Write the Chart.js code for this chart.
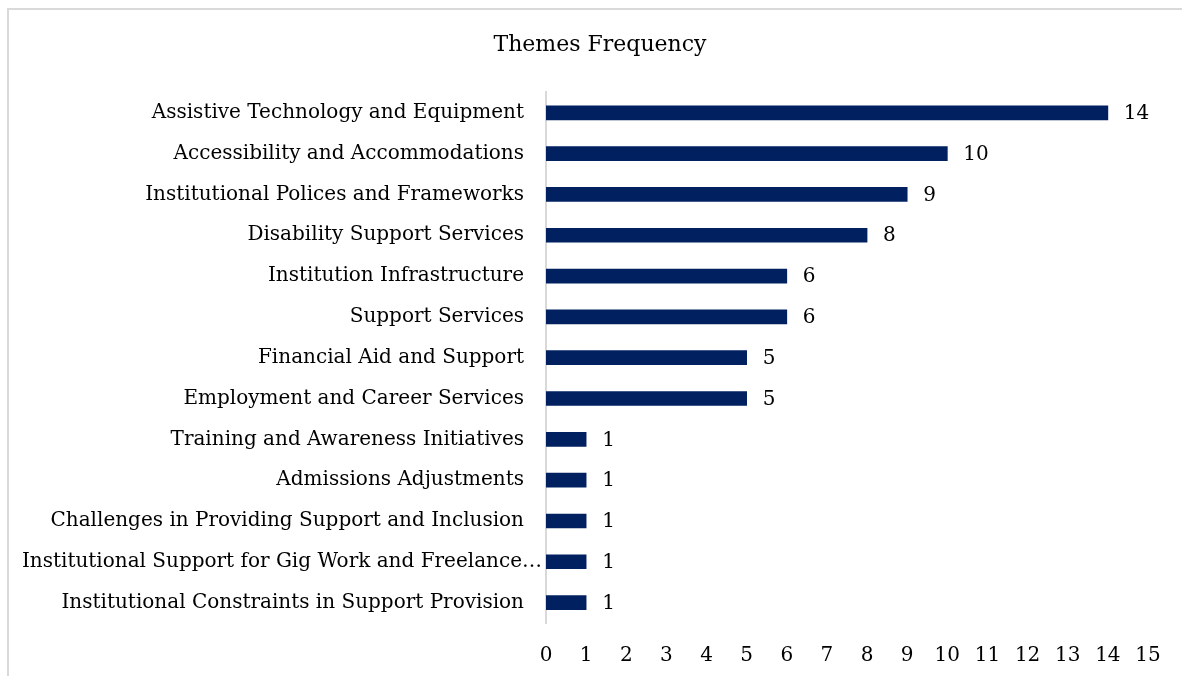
<!DOCTYPE html>
<html>
<head>
<meta charset="utf-8">
<script src="https://cdn.jsdelivr.net/npm/chart.js@4.4.0/dist/chart.umd.min.js"></script>
<style>
  html, body { margin: 0; padding: 0; background: #ffffff; }
  #wrap { position: relative; width: 1182px; height: 676px; overflow: hidden; }
  #frame { position: absolute; left: 7px; top: 8px; right: -10px; bottom: -10px;
           border-top: 2px solid #d9d9d9; border-left: 2px solid #d9d9d9; }
  canvas { position: absolute; left: 0; top: 0; }
</style>
</head>
<body>
<div id="wrap">
  <div id="frame"></div>
  <canvas id="chart" width="1182" height="676"></canvas>
</div>
<script>
// Themes and how often each one came up
const themes = [
  "Assistive Technology and Equipment",
  "Accessibility and Accommodations",
  "Institutional Polices and Frameworks",
  "Disability Support Services",
  "Institution Infrastructure",
  "Support Services",
  "Financial Aid and Support",
  "Employment and Career Services",
  "Training and Awareness Initiatives",
  "Admissions Adjustments",
  "Challenges in Providing Support and Inclusion",
  "Institutional Support for Gig Work and Freelance…",
  "Institutional Constraints in Support Provision"
];
const frequency = [14, 10, 9, 8, 6, 6, 5, 5, 1, 1, 1, 1, 1];
const xTicks = [0, 1, 2, 3, 4, 5, 6, 7, 8, 9, 10, 11, 12, 13, 14, 15];

const FONT = "'DejaVu Serif', serif";
const TEXT = "#000000";
const BAR = "#002060";

// Writes each bar's value just past its end
const valueLabels = {
  id: "valueLabels",
  afterDatasetsDraw(chart) {
    const ctx = chart.ctx;
    const meta = chart.getDatasetMeta(0);
    ctx.save();
    ctx.font = "20px " + FONT;
    ctx.fillStyle = TEXT;
    ctx.textAlign = "left";
    ctx.textBaseline = "middle";
    meta.data.forEach((bar, i) => {
      ctx.fillText(String(chart.data.datasets[0].data[i]), bar.x + 16, bar.y + 1);
    });
    ctx.restore();
  }
};

// Centres the title over the frame, and lets the truncated (…) category
// label run closer to the axis so it stays inside the frame
const layoutTweaks = {
  id: "layoutTweaks",
  afterLayout(chart) {
    if (chart.titleBlock) chart.titleBlock.left = 52;
  },
  beforeDraw(chart) {
    const y = chart.scales.y;
    const items = y.getLabelItems(chart.chartArea);
    items.forEach(item => {
      if (typeof item.label === "string" && item.label.endsWith("…")) {
        item.options.translation = [item.options.translation[0] + 18, item.options.translation[1]];
      }
    });
  }
};

new Chart(document.getElementById("chart"), {
  type: "bar",
  data: {
    labels: themes,
    datasets: [{
      data: frequency,
      backgroundColor: BAR,
      borderWidth: 0,
      barThickness: 14
    }]
  },
  options: {
    indexAxis: "y",
    responsive: false,
    animation: false,
    layout: { padding: { left: 0, right: 34, top: 0, bottom: 0 } },
    plugins: {
      legend: { display: false },
      tooltip: { enabled: false },
      title: {
        display: true,
        text: "Themes Frequency",
        color: TEXT,
        font: { family: FONT, size: 22, weight: "normal" },
        padding: { top: 32, bottom: 34 }
      }
    },
    scales: {
      x: {
        min: 0,
        max: 15,
        afterBuildTicks(scale) { scale.ticks = xTicks.map(v => ({ value: v })); },
        grid: { display: false, drawTicks: false },
        border: { display: false },
        ticks: {
          color: TEXT,
          font: { family: FONT, size: 20 },
          padding: 21,
          maxRotation: 0,
          autoSkip: false
        },
        afterFit(scale) {
          scale.height = 53;
          scale.paddingLeft = 0;
          scale.paddingRight = 0;
        }
      },
      y: {
        grid: { display: false, drawTicks: false },
        border: { display: true, color: "#d9d9d9", width: 2 },
        ticks: {
          color: TEXT,
          font: { family: FONT, size: 20 },
          padding: 22,
          autoSkip: false
        },
        afterFit(scale) { scale.width = 546; }
      }
    }
  },
  plugins: [valueLabels, layoutTweaks]
});
</script>
</body>
</html>
